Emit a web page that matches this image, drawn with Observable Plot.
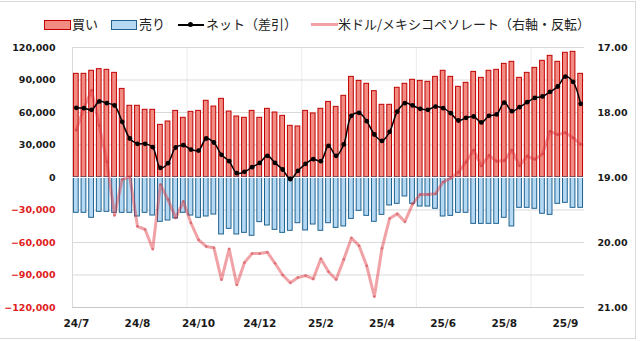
<!DOCTYPE html>
<html><head><meta charset="utf-8">
<script src="https://cdn.jsdelivr.net/npm/d3@7"></script>
<script src="https://cdn.jsdelivr.net/npm/@observablehq/plot@0.6"></script>
<style>
html,body{margin:0;padding:0;background:#fff;}
#wrap{position:relative;width:640px;height:341px;overflow:hidden;background:#fff;}
#frame{position:absolute;left:-1px;top:1px;width:637px;height:338px;border:1px solid #d9d9d9;box-sizing:border-box;}
.lg{position:absolute;top:16px;font-family:"Noto Sans CJK JP";font-size:13px;line-height:16px;color:#222;white-space:nowrap;}
.sw{position:absolute;top:20px;height:10px;box-sizing:border-box;}
#chart{position:absolute;left:0;top:32px;}
</style></head>
<body>
<div id="wrap">
  <div id="frame"></div>
  <div class="sw" style="left:44px;width:27px;background:#F28B82;border:1px solid #C00000;"></div>
  <div class="lg" style="left:72px;">買い</div>
  <div class="sw" style="left:111px;width:26px;background:#B5D8F3;border:1px solid #1F6391;"></div>
  <div class="lg" style="left:139px;">売り</div>
  <div class="sw" style="left:178px;width:26px;top:24px;height:1.5px;background:#000;"></div>
  <div class="sw" style="left:188px;width:5px;top:22px;height:5px;border-radius:50%;background:#000;"></div>
  <div class="lg" style="left:206px;">ネット（差引）</div>
  <div class="sw" style="left:311px;width:27px;top:23px;height:3px;background:rgba(224,48,58,0.45);"></div>
  <div class="lg" style="left:338px;">米ドル/メキシコペソレート（右軸・反転）</div>
  <div id="chart"></div>
</div>
<script>
const buys = [95700,95700,98500,100000,99400,96600,81800,66200,66200,62500,62500,48600,51700,61500,55100,60600,61500,70800,65500,72600,60900,56300,55100,61500,55100,63400,60000,56900,47700,47100,61500,59100,63400,69800,65200,75400,92900,89200,86500,79700,67100,67100,82800,86500,90200,89200,88300,92900,98500,92900,83700,87400,97500,92000,98500,99400,104900,106800,92000,96600,101200,107700,112300,106800,115100,116000,95700];
const sells = [32600,32600,37200,31700,31700,32600,32600,32600,36000,32600,35100,40900,39700,37800,32600,35100,37200,36000,34200,52600,47400,52600,51100,53800,41200,44300,48300,51100,49200,42200,48900,43400,49200,42200,46500,45200,38200,30800,35400,40900,34500,25800,24300,17500,24300,26800,26800,28900,36000,35400,32600,32600,42800,42800,42800,42800,37200,45200,28000,28000,28900,33500,34500,24300,23400,28000,28000];
const nets = [64300,64000,62500,70200,68600,66500,51400,36000,31100,31100,28000,8900,13200,27700,29800,25800,24900,36000,32300,20900,15100,4000,5200,9500,13500,20000,13500,7400,-1500,6200,12600,16900,15100,29200,20000,30500,56900,59700,52000,39700,33800,42200,60900,68600,66500,63400,62500,65500,64000,59400,52600,55100,56300,50800,56900,58200,69200,61200,64900,69500,73500,74800,79100,84000,93200,88300,68000];
const rates = [18.27,17.93,17.66,18.20,18.76,19.58,19.03,18.99,19.75,19.80,20.10,19.11,19.34,19.62,19.37,19.70,19.96,20.06,20.08,20.57,20.10,20.65,20.31,20.17,20.17,20.15,20.32,20.50,20.62,20.54,20.51,20.56,20.25,20.45,20.57,20.26,19.93,20.05,20.36,20.83,20.09,19.63,19.56,19.68,19.41,19.26,19.26,19.25,19.07,19.01,18.92,18.76,18.58,18.82,18.66,18.75,18.74,18.58,18.82,18.67,18.72,18.64,18.29,18.34,18.31,18.39,18.49];
const xTickIndex = [0,8,16,24,32,40,48,56,64];
const xTickLabels = ["24/7","24/8","24/10","24/12","25/2","25/4","25/6","25/8","25/9"];
const leftTicks = [-120000,-90000,-60000,-30000,0,30000,60000,90000,120000];
const rightTicks = [17,18,19,20,21];
const vGrid = [14.5,29.5,44.5,59.5];

const data = buys.map((b,i)=>({i, buy:b, sell:-sells[i], net:nets[i], rate:rates[i]}));
const rateToY = r => (19 - r) * 60000;
const hw = 0.31;
const fmt = d3.format(",");

const chart = Plot.plot({
  width: 640, height: 303,
  marginLeft: 72, marginRight: 56, marginTop: 15, marginBottom: 28,
  style: {fontFamily: "DejaVu Sans", fontWeight: "bold", fontSize: "9.5px", background: "transparent"},
  x: {domain: [-0.5, 66.5], axis: null},
  y: {domain: [-120000, 120000], axis: null},
  marks: [
    Plot.ruleX(vGrid, {stroke: "#ececec"}),
    Plot.ruleY(leftTicks.filter(t => t > -120000 && t !== 0), {stroke: "#d9d9d9"}),
    Plot.ruleY([-120000], {stroke: "#c8c8c8"}),
    Plot.ruleX([-0.5], {stroke: "#d9d9d9"}),
    Plot.rectY(data, {x1: d => d.i - hw, x2: d => d.i + hw, y1: 0, y2: "buy", fill: "#F28B82", stroke: "#C00000", strokeWidth: 1}),
    Plot.rectY(data, {x1: d => d.i - hw, x2: d => d.i + hw, y1: 0, y2: "sell", fill: "#B5D8F3", stroke: "#1F6391", strokeWidth: 1}),
    Plot.ruleY([0], {stroke: "white", strokeWidth: 1}),
    Plot.line(data, {x: "i", y: d => rateToY(d.rate), stroke: "#E0303A", strokeOpacity: 0.45, strokeWidth: 3}),
    Plot.dot(data, {x: "i", y: d => rateToY(d.rate), r: 1.3, fill: "#C0303A", fillOpacity: 0.45}),
    Plot.line(data, {x: "i", y: "net", stroke: "#000", strokeWidth: 1.5, curve: "catmull-rom"}),
    Plot.dot(data, {x: "i", y: "net", r: 2.4, fill: "#000"}),
    Plot.axisY(leftTicks.filter(t => t >= 0), {anchor: "left", label: null, tickSize: 0, tickPadding: 17, tickFormat: fmt, fill: "#1a1a1a"}),
    Plot.axisY(leftTicks.filter(t => t < 0), {anchor: "left", label: null, tickSize: 0, tickPadding: 17, tickFormat: fmt, fill: "#E02020"}),
    Plot.axisY(rightTicks.map(rateToY), {anchor: "right", label: null, tickSize: 0, tickPadding: 13, tickFormat: v => (19 - v / 60000).toFixed(2), fill: "#1a1a1a"}),
    Plot.axisX(xTickIndex, {anchor: "bottom", label: null, tickSize: 0, tickPadding: 12, fontSize: 10.5, tickFormat: v => xTickLabels[xTickIndex.indexOf(v)], fill: "#1a1a1a"})
  ]
});
document.getElementById("chart").appendChild(chart);
</script>
</body></html>
